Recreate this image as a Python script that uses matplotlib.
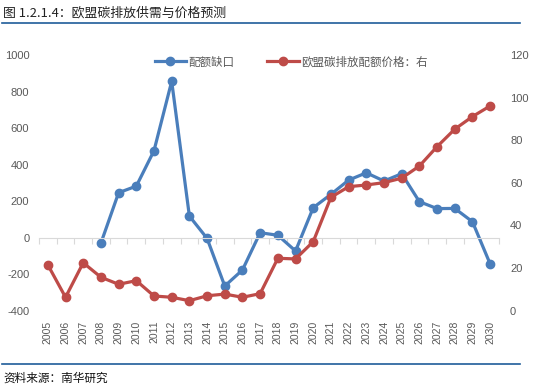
import numpy as np
import matplotlib
matplotlib.use('Agg')
import matplotlib.pyplot as plt
from matplotlib.lines import Line2D

plt.rcParams['font.family'] = ['Noto Sans CJK SC', 'DejaVu Sans']

# 数据
years = [str(y) for y in range(2005, 2031)]
gap = [np.nan, np.nan, np.nan, -30, 246, 282, 476, 856, 118, -4, -265, -177, 27,
       13, -73, 164, 237, 315, 355, 310, 350, 197, 159, 160, 87, -144]
price = [21.5, 6.3, 22.5, 15.7, 12.4, 14.1, 6.9, 6.3, 4.7, 7.0, 7.8, 6.3, 8.0,
         24.6, 24.3, 32.4, 53.2, 58.2, 59.0, 60.1, 62.2, 67.9, 77.0, 85.2, 91.1, 96.1]
left_ticks = list(range(-400, 1001, 200))
right_ticks = list(range(0, 121, 20))

blue = '#4A7EBB'
red = '#BE4B48'
grey_txt = '#595959'
axis_grey = '#D9D9D9'

W, H = 533, 385
fig = plt.figure(figsize=(W / 100, H / 100), dpi=100)

# 标题与分隔线
fig.text(3 / W, 1 - 13 / H, '图 1.2.1.4：欧盟碳排放供需与价格预测', fontsize=9.3,
         va='center', ha='left', color='#222222', fontweight='medium')
fig.add_artist(Line2D([2 / W, 520 / W], [1 - 23 / H] * 2, color='#1F5C99', lw=1.2))
fig.add_artist(Line2D([2 / W, 520 / W], [1 - 364 / H] * 2, color='#1F5C99', lw=1.2))
fig.text(3 / W, 1 - 378 / H, '资料来源：南华研究', fontsize=8.4,
         va='center', ha='left', color='#111111')

ax = fig.add_axes([39 / W, 1 - 310.7 / H, 460 / W, 255.7 / H])
x = np.arange(len(years))
l1, = ax.plot(x, gap, color=blue, lw=2.3, marker='o', ms=6, label='配额缺口')
ax.set_ylim(-400, 1000)
ax.set_xlim(-0.5, len(years) - 0.5)
ax.set_yticks(left_ticks)
ax.set_yticklabels([str(v) for v in left_ticks], fontfamily='Liberation Sans')
ax.tick_params(axis='y', length=0, pad=7, labelsize=8, labelcolor=grey_txt)

for s in ['top', 'left', 'right']:
    ax.spines[s].set_visible(False)
ax.spines['bottom'].set_position(('data', 0))
ax.spines['bottom'].set_color(axis_grey)
ax.set_xticks(np.arange(-0.5, len(years), 1))
ax.tick_params(axis='x', length=4, color=axis_grey, labelbottom=False)

sec = ax.secondary_xaxis('bottom')
sec.set_xticks(x)
sec.set_xticklabels(years, rotation=90, fontfamily='Liberation Sans')
sec.tick_params(length=0, pad=7, labelsize=7.5, labelcolor=grey_txt)
sec.spines['bottom'].set_visible(False)

ax2 = ax.twinx()
l2, = ax2.plot(x, price, color=red, lw=2.3, marker='o', ms=6, label='欧盟碳排放配额价格：右')
ax2.set_ylim(0, 120)
ax2.set_yticks(right_ticks)
ax2.set_yticklabels([str(v) for v in right_ticks], fontfamily='Liberation Sans')
ax2.tick_params(axis='y', length=0, pad=8, labelsize=8, labelcolor=grey_txt)
for s in ax2.spines.values():
    s.set_visible(False)

leg = ax2.legend(handles=[l1, l2], loc='center', bbox_to_anchor=(291 / W, 1 - 62 / H),
                 bbox_transform=fig.transFigure, ncol=2, frameon=False, fontsize=8.3,
                 handlelength=2.7, handletextpad=0.2, columnspacing=2.9)
for t in leg.get_texts():
    t.set_color(grey_txt)

fig.savefig('out.png', dpi=100)
